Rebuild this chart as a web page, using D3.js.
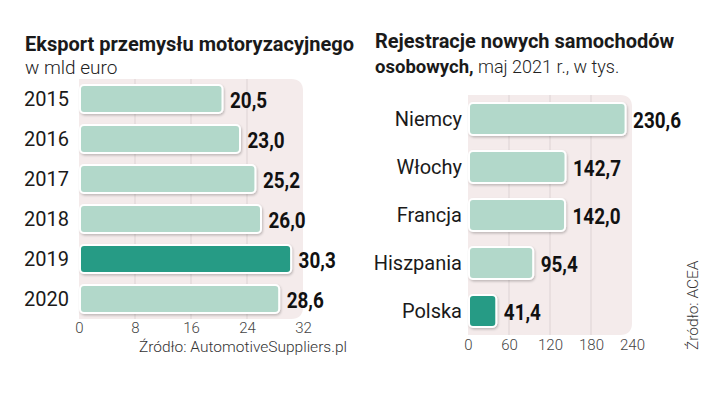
<!DOCTYPE html>
<html>
<head>
<meta charset="utf-8">
<script src="https://cdn.jsdelivr.net/npm/d3@7"></script>
<style>
  body { margin: 0; background: #fff; }
  svg { display: block; }
  .title { font-family: Roboto, "Liberation Sans", sans-serif; font-weight: 700; font-size: 20px; fill: #1a1a1a; }
  .sub { font-family: Roboto, "Liberation Sans", sans-serif; font-weight: 300; font-size: 19px; fill: #222; }
  .cat { font-family: Roboto, "Liberation Sans", sans-serif; font-weight: 400; font-size: 20px; fill: #1a1a1a; }
  .val { font-family: Roboto, "Liberation Sans", sans-serif; font-weight: 700; font-size: 22.5px; fill: #111; }
  .tick text { font-family: Roboto, "Liberation Sans", sans-serif; font-weight: 300; font-size: 15px; fill: #444; }
  .src { font-family: Roboto, "Liberation Sans", sans-serif; font-weight: 300; font-size: 15.5px; fill: #333; }
</style>
</head>
<body>
<svg width="721" height="395"></svg>
<script>
// left chart: export, bn EUR
var years = ["2015", "2016", "2017", "2018", "2019", "2020"];
var exportValues = [20.5, 23.0, 25.2, 26.0, 30.3, 28.6];
var exportTicks = [0, 8, 16, 24, 32];
var exportHighlight = "2019";

// right chart: registrations, thousands
var countries = ["Niemcy", "Włochy", "Francja", "Hiszpania", "Polska"];
var regValues = [230.6, 142.7, 142.0, 95.4, 41.4];
var regTicks = [0, 60, 120, 180, 240];
var regHighlight = "Polska";

var light = "#b2d8ca", dark = "#279b85", panel = "#f4ebeb";
var fmt = function(v) { return d3.format(".1f")(v).replace(".", ","); };

var svg = d3.select("svg");

var defs = svg.append("defs");
var sh = defs.append("filter").attr("id", "sh").attr("x", "-10%").attr("y", "-20%").attr("width", "130%").attr("height", "160%");
sh.append("feDropShadow").attr("dx", 1).attr("dy", 1.5).attr("stdDeviation", 1.2)
  .attr("flood-color", "#000").attr("flood-opacity", 0.22);

function panelPath(x0, x1, y0, y1, r) {
  return "M" + x0 + "," + y0 + "H" + (x1 - r) + "Q" + x1 + "," + y0 + " " + x1 + "," + (y0 + r) +
    "V" + (y1 - r) + "Q" + x1 + "," + y1 + " " + (x1 - r) + "," + y1 + "H" + x0 + "Z";
}

function drawChart(opt) {
  var g = svg.append("g");
  var x = d3.scaleLinear().domain(opt.domain).range(opt.xr);
  var y = d3.scaleBand().domain(opt.cats).range(opt.yr)
    .paddingInner(opt.pi).paddingOuter(opt.po);

  g.append("path")
    .attr("d", panelPath(opt.xr[0], opt.xr[1], opt.yr[0], opt.yr[1], 12))
    .attr("fill", panel);

  g.selectAll("line.grid").data(opt.ticks.slice(1, -1)).enter().append("line")
    .attr("class", "grid")
    .attr("x1", function(d) { return x(d); }).attr("x2", function(d) { return x(d); })
    .attr("y1", opt.yr[0]).attr("y2", opt.yr[1])
    .attr("stroke", "#ddd3d4").attr("stroke-width", 1);

  var axis = d3.axisBottom(x).tickValues(opt.ticks).tickSize(0).tickPadding(0);
  g.append("g").attr("transform", "translate(0," + opt.tickY + ")").call(axis)
    .call(function(a) { a.select(".domain").remove(); })
    .selectAll("text").attr("dy", 0);

  g.selectAll("rect.bar").data(opt.cats).enter().append("rect")
    .attr("class", "bar")
    .attr("x", x(0) + 1)
    .attr("y", function(d) { return y(d); })
    .attr("width", function(d, i) { return x(opt.values[i]) - x(0) - 1; })
    .attr("height", y.bandwidth())
    .attr("rx", 4)
    .attr("fill", function(d) { return d === opt.hi ? dark : light; })
    .attr("stroke", "#fff").attr("stroke-width", 2)
    .attr("filter", "url(#sh)");

  // condensed bold numbers
  g.selectAll("text.val").data(opt.cats).enter().append("text")
    .attr("class", "val")
    .attr("transform", function(d, i) {
      return "translate(" + (x(opt.values[i]) + 7.5) + "," + (y(d) + y.bandwidth() / 2 + 8.5) + ") scale(0.84,1)";
    })
    .text(function(d, i) { return fmt(opt.values[i]); });

  g.selectAll("text.cat").data(opt.cats).enter().append("text")
    .attr("class", "cat")
    .attr("x", opt.catX)
    .attr("y", function(d) { return y(d) + y.bandwidth() / 2 + 7; })
    .attr("text-anchor", opt.catAnchor)
    .text(function(d) { return d; });
}

drawChart({
  cats: years, values: exportValues, ticks: exportTicks, hi: exportHighlight,
  domain: [0, 32], xr: [79, 303], yr: [79, 319], pi: 0.3, po: 0.15,
  tickY: 333, catX: 24, catAnchor: "start"
});

drawChart({
  cats: countries, values: regValues, ticks: regTicks, hi: regHighlight,
  domain: [0, 240], xr: [468, 632], yr: [95, 335], pi: 1 / 3, po: 1 / 6,
  tickY: 350, catX: 462, catAnchor: "end"
});

// titles
svg.append("text").attr("class", "title").attr("x", 25).attr("y", 51).text("Eksport przemysłu motoryzacyjnego");
svg.append("text").attr("class", "sub").attr("x", 25).attr("y", 74).text("w mld euro");

svg.append("text").attr("class", "title").attr("x", 375).attr("y", 48).text("Rejestracje nowych samochodów");
var t2 = svg.append("text").attr("x", 375).attr("y", 73);
t2.append("tspan").attr("class", "title").style("font-size", "18.5px").text("osobowych,");
t2.append("tspan").attr("class", "sub").style("font-size", "18px").text(" maj 2021 r., w tys.");

// sources
svg.append("text").attr("class", "src").attr("x", 347).attr("y", 352).attr("text-anchor", "end")
  .text("Źródło: AutomotiveSuppliers.pl");
svg.append("text").attr("class", "src").attr("transform", "translate(698,350) rotate(-90)")
  .text("Źródło: ACEA");
</script>
</body>
</html>
